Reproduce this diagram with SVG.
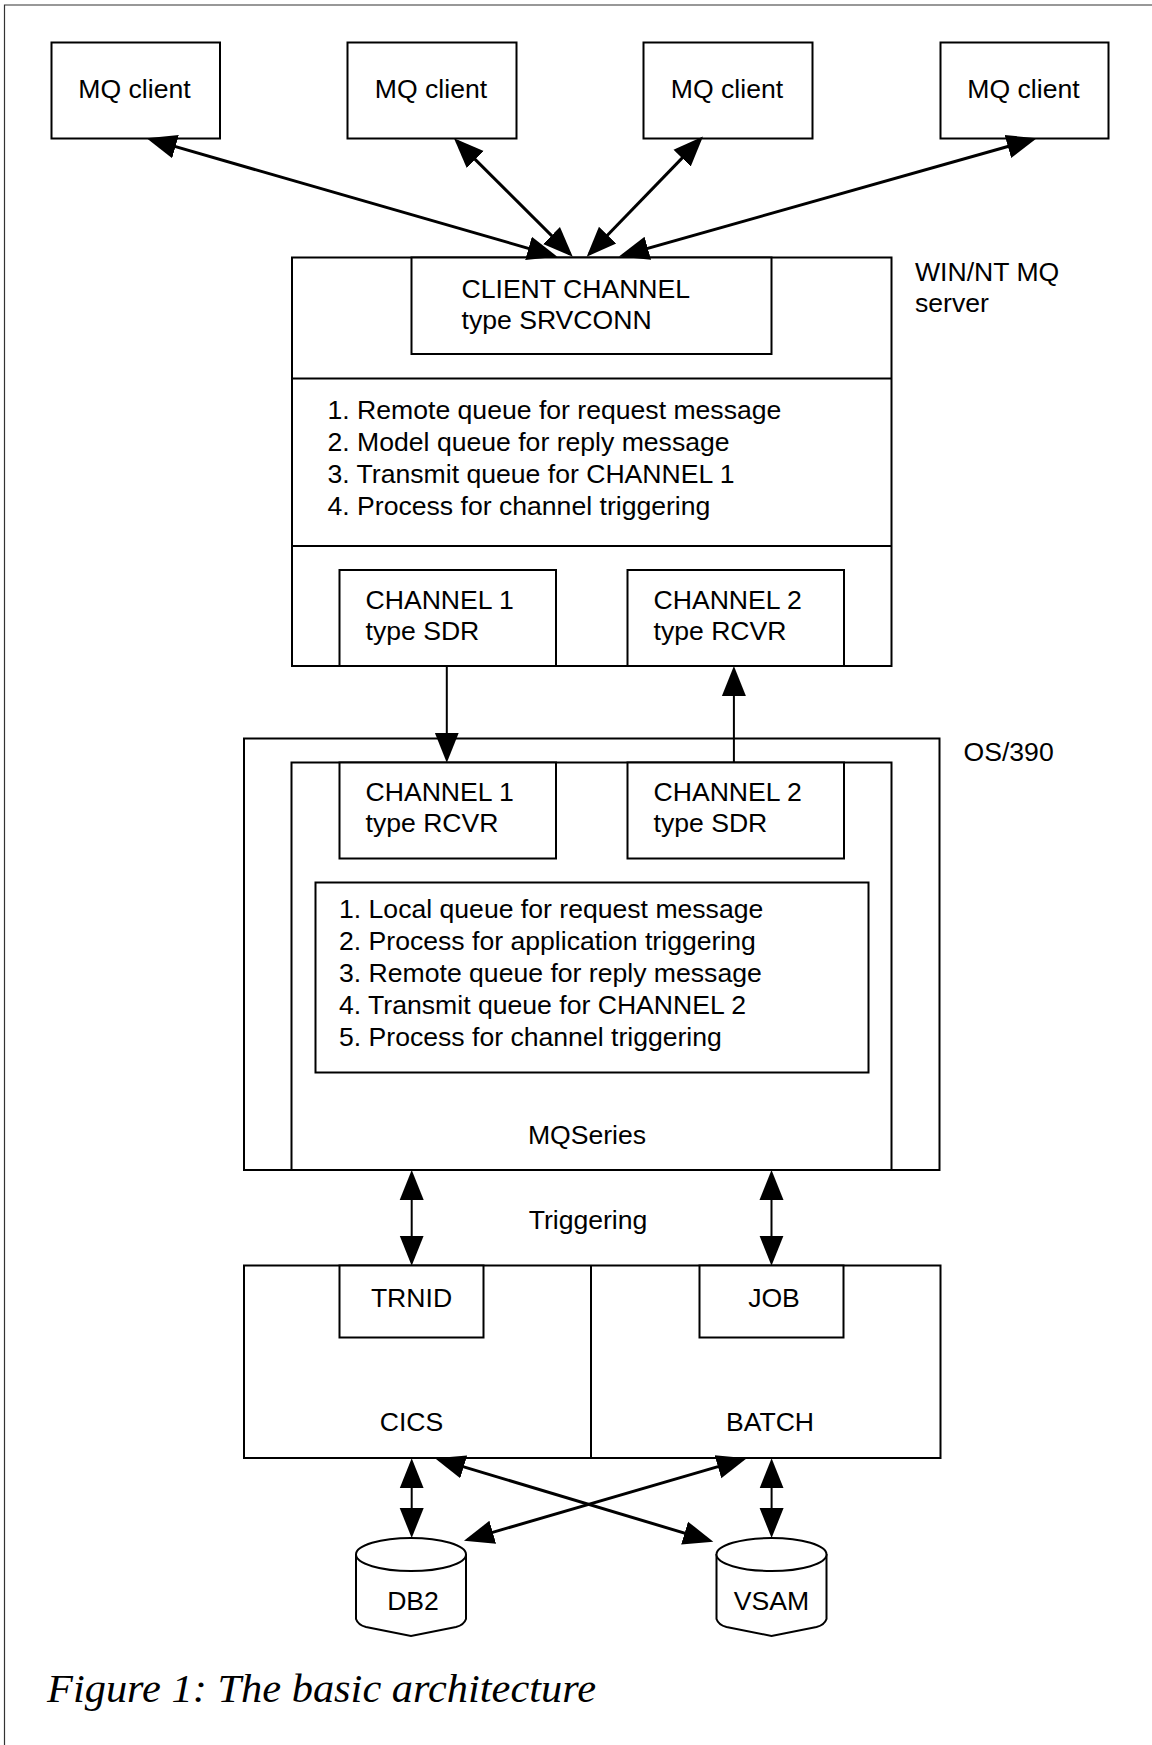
<svg xmlns="http://www.w3.org/2000/svg" width="1152" height="1745" viewBox="0 0 1152 1745">
<style>
.box{fill:#fff;stroke:#000;stroke-width:2}
.ln{fill:none;stroke:#000;stroke-width:2}
.t{font-family:"Liberation Sans",Arial,sans-serif;font-size:26.6px;fill:#000}
.m{text-anchor:middle}
.c3{fill:none;stroke:#000;stroke-width:3;marker-start:url(#ah);marker-end:url(#ah)}
.c2{fill:none;stroke:#000;stroke-width:2}
.cap{font-family:"Liberation Serif","Times New Roman",serif;font-style:italic;font-size:41px;fill:#000}
</style>
<defs>
<marker id="ah" markerUnits="userSpaceOnUse" markerWidth="32" markerHeight="26" refX="26" refY="13" orient="auto-start-reverse">
<path d="M0,1 L30,13 L0,25 Z" fill="#000"/>
</marker>
</defs>
<rect width="1152" height="1745" fill="#fff"/>
<path d="M4.5,1745 V5 H1152" fill="none" stroke="#333" stroke-width="1.2"/>

<g id="client1"><rect class="box" x="51.5" y="42.5" width="168.5" height="96"/><text class="t m" x="134.5" y="97.5">MQ client</text></g>
<g id="client2"><rect class="box" x="347.5" y="42.5" width="169" height="96"/><text class="t m" x="431" y="97.5">MQ client</text></g>
<g id="client3"><rect class="box" x="643.5" y="42.5" width="169" height="96"/><text class="t m" x="727" y="97.5">MQ client</text></g>
<g id="client4"><rect class="box" x="940.5" y="42.5" width="168" height="96"/><text class="t m" x="1023.5" y="97.5">MQ client</text></g>

<g id="winnt-server">
<rect class="box" x="292" y="257.5" width="599.5" height="408.5"/>
<line class="ln" x1="292" y1="378.5" x2="891.5" y2="378.5"/>
<line class="ln" x1="292" y1="546" x2="891.5" y2="546"/>
<text class="t" x="915" y="281">WIN/NT MQ</text>
<text class="t" x="915" y="312">server</text>
<text class="t" x="327.5" y="419">1. Remote queue for request message</text>
<text class="t" x="327.5" y="451">2. Model queue for reply message</text>
<text class="t" x="327.5" y="483">3. Transmit queue for CHANNEL 1</text>
<text class="t" x="327.5" y="515">4. Process for channel triggering</text>
</g>
<g id="client-channel"><rect class="box" x="411.5" y="257.5" width="360" height="96.5"/><text class="t" x="461.5" y="297.5">CLIENT CHANNEL</text><text class="t" x="461.5" y="329">type SRVCONN</text></g>
<g id="ch1-sdr"><rect class="box" x="339.5" y="570" width="216.5" height="96"/><text class="t" x="365.5" y="608.5">CHANNEL 1</text><text class="t" x="365.5" y="640">type SDR</text></g>
<g id="ch2-rcvr"><rect class="box" x="627.5" y="570" width="216.5" height="96"/><text class="t" x="653.5" y="608.5">CHANNEL 2</text><text class="t" x="653.5" y="640">type RCVR</text></g>

<g id="os390">
<rect class="box" x="244" y="738.5" width="695.5" height="431.5"/>
<text class="t" x="963.5" y="760.5">OS/390</text>
</g>
<g id="mqseries">
<rect class="box" x="291.5" y="762.5" width="600" height="407.5"/>
<text class="t m" x="587" y="1144">MQSeries</text>
</g>
<g id="ch1-rcvr"><rect class="box" x="339.5" y="762.5" width="216.5" height="96"/><text class="t" x="365.5" y="800.5">CHANNEL 1</text><text class="t" x="365.5" y="831.5">type RCVR</text></g>
<g id="ch2-sdr"><rect class="box" x="627.5" y="762.5" width="216.5" height="96"/><text class="t" x="653.5" y="800.5">CHANNEL 2</text><text class="t" x="653.5" y="831.5">type SDR</text></g>
<g id="os390-queues">
<rect class="box" x="315.5" y="882.5" width="553" height="190"/>
<text class="t" x="339" y="918">1. Local queue for request message</text>
<text class="t" x="339" y="950">2. Process for application triggering</text>
<text class="t" x="339" y="982">3. Remote queue for reply message</text>
<text class="t" x="339" y="1014">4. Transmit queue for CHANNEL 2</text>
<text class="t" x="339" y="1046">5. Process for channel triggering</text>
</g>

<g id="triggering-label"><text class="t m" x="588" y="1229">Triggering</text></g>

<g id="cics-batch">
<rect class="box" x="244" y="1265.5" width="696.5" height="192.5"/>
<line class="ln" x1="591" y1="1265.5" x2="591" y2="1458"/>
<text class="t m" x="411.5" y="1430.5">CICS</text>
<text class="t m" x="770" y="1430.5">BATCH</text>
</g>
<g id="trnid"><rect class="box" x="339.5" y="1265.5" width="144" height="72"/><text class="t m" x="411.5" y="1307">TRNID</text></g>
<g id="job"><rect class="box" x="699.5" y="1265.5" width="144" height="72"/><text class="t m" x="774" y="1307">JOB</text></g>

<g id="db2">
<path class="box" d="M356,1554 V1619 Q358,1625 366,1627 L411,1636 L456,1627 Q464,1625 466,1619 V1554"/>
<ellipse class="box" cx="411" cy="1554.5" rx="55" ry="16.5"/>
<text class="t m" x="413" y="1610">DB2</text>
</g>
<g id="vsam">
<path class="box" d="M716.5,1554 V1619 Q718.5,1625 726.5,1627 L771.5,1636 L816.5,1627 Q824.5,1625 826.5,1619 V1554"/>
<ellipse class="box" cx="771.5" cy="1554.5" rx="55" ry="16.5"/>
<text class="t m" x="771.5" y="1610">VSAM</text>
</g>

<g id="connectors">
<path class="c3" d="M150.5,139.4 L553.5,255.6"/>
<path class="c3" d="M456.8,141.1 L569.9,253.9"/>
<path class="c3" d="M700.2,139.4 L589.5,253.8"/>
<path class="c3" d="M1032.9,139.4 L622.8,255.4"/>
<path class="c2" d="M446.8,666 V758.7" marker-end="url(#ah)"/>
<path class="c2" d="M733.9,762.7 V670" marker-end="url(#ah)"/>
<path class="c2" d="M411.7,1174 V1261.7" marker-start="url(#ah)" marker-end="url(#ah)"/>
<path class="c2" d="M771.5,1174 V1261.7" marker-start="url(#ah)" marker-end="url(#ah)"/>
<path class="c2" d="M411.7,1462.3 V1534" marker-start="url(#ah)" marker-end="url(#ah)"/>
<path class="c2" d="M771.6,1462.3 V1534" marker-start="url(#ah)" marker-end="url(#ah)"/>
<path class="c3" d="M438.8,1459.4 L709.5,1540.6"/>
<path class="c3" d="M742.9,1459.4 L467.8,1539.6"/>
</g>

<g id="caption"><text class="cap" x="47" y="1701.5" textLength="549" lengthAdjust="spacingAndGlyphs">Figure 1: The basic architecture</text></g>
</svg>
